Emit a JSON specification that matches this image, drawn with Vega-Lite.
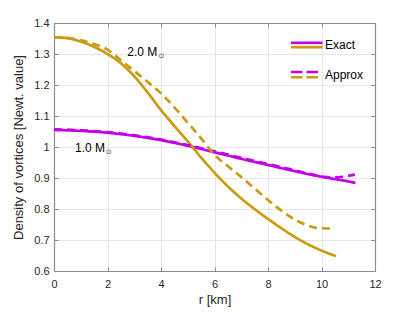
{
  "$schema": "https://vega.github.io/schema/vega-lite/v6.json",
  "width": 321,
  "height": 248,
  "autosize": {"type": "none"},
  "padding": {"left": 54, "top": 23, "right": 40, "bottom": 41},
  "background": "white",
  "config": {
    "font": "Liberation Sans",
    "view": {"stroke": "#8c8c8c", "strokeWidth": 1},
    "axis": {
      "domainColor": "#8c8c8c",
      "domainWidth": 1.2,
      "tickColor": "#8c8c8c",
      "labelColor": "#262626",
      "titleColor": "#262626",
      "labelFont": "Liberation Sans",
      "titleFont": "Liberation Sans",
      "labelFontSize": 11,
      "titleFontSize": 13,
      "titleFontWeight": "normal",
      "gridColor": "#e6e6e6",
      "gridWidth": 1
    }
  },
  "datasets": {
    "curves": [
      {"r": 0, "v": 1.055, "mass": "1.0", "kind": "Exact"},
      {"r": 1, "v": 1.052, "mass": "1.0", "kind": "Exact"},
      {"r": 2, "v": 1.046, "mass": "1.0", "kind": "Exact"},
      {"r": 3, "v": 1.036, "mass": "1.0", "kind": "Exact"},
      {"r": 4, "v": 1.022, "mass": "1.0", "kind": "Exact"},
      {"r": 5, "v": 1.004, "mass": "1.0", "kind": "Exact"},
      {"r": 6, "v": 0.983, "mass": "1.0", "kind": "Exact"},
      {"r": 7, "v": 0.962, "mass": "1.0", "kind": "Exact"},
      {"r": 8, "v": 0.942, "mass": "1.0", "kind": "Exact"},
      {"r": 9, "v": 0.922, "mass": "1.0", "kind": "Exact"},
      {"r": 10, "v": 0.904, "mass": "1.0", "kind": "Exact"},
      {"r": 11, "v": 0.889, "mass": "1.0", "kind": "Exact"},
      {"r": 11.27, "v": 0.884, "mass": "1.0", "kind": "Exact"},
      {"r": 0, "v": 1.354, "mass": "2.0", "kind": "Exact"},
      {"r": 0.5, "v": 1.351, "mass": "2.0", "kind": "Exact"},
      {"r": 1, "v": 1.34, "mass": "2.0", "kind": "Exact"},
      {"r": 1.5, "v": 1.323, "mass": "2.0", "kind": "Exact"},
      {"r": 2, "v": 1.3, "mass": "2.0", "kind": "Exact"},
      {"r": 2.5, "v": 1.27, "mass": "2.0", "kind": "Exact"},
      {"r": 3, "v": 1.228, "mass": "2.0", "kind": "Exact"},
      {"r": 3.5, "v": 1.176, "mass": "2.0", "kind": "Exact"},
      {"r": 4, "v": 1.119, "mass": "2.0", "kind": "Exact"},
      {"r": 4.5, "v": 1.068, "mass": "2.0", "kind": "Exact"},
      {"r": 5, "v": 1.018, "mass": "2.0", "kind": "Exact"},
      {"r": 5.5, "v": 0.966, "mass": "2.0", "kind": "Exact"},
      {"r": 6, "v": 0.917, "mass": "2.0", "kind": "Exact"},
      {"r": 6.5, "v": 0.873, "mass": "2.0", "kind": "Exact"},
      {"r": 7, "v": 0.834, "mass": "2.0", "kind": "Exact"},
      {"r": 7.5, "v": 0.8, "mass": "2.0", "kind": "Exact"},
      {"r": 8, "v": 0.768, "mass": "2.0", "kind": "Exact"},
      {"r": 8.5, "v": 0.738, "mass": "2.0", "kind": "Exact"},
      {"r": 9, "v": 0.71, "mass": "2.0", "kind": "Exact"},
      {"r": 9.5, "v": 0.686, "mass": "2.0", "kind": "Exact"},
      {"r": 10, "v": 0.666, "mass": "2.0", "kind": "Exact"},
      {"r": 10.54, "v": 0.648, "mass": "2.0", "kind": "Exact"},
      {"r": 0, "v": 1.057, "mass": "1.0", "kind": "Approx"},
      {"r": 1, "v": 1.054, "mass": "1.0", "kind": "Approx"},
      {"r": 2, "v": 1.048, "mass": "1.0", "kind": "Approx"},
      {"r": 3, "v": 1.038, "mass": "1.0", "kind": "Approx"},
      {"r": 4, "v": 1.024, "mass": "1.0", "kind": "Approx"},
      {"r": 5, "v": 1.006, "mass": "1.0", "kind": "Approx"},
      {"r": 6, "v": 0.986, "mass": "1.0", "kind": "Approx"},
      {"r": 7, "v": 0.965, "mass": "1.0", "kind": "Approx"},
      {"r": 8, "v": 0.945, "mass": "1.0", "kind": "Approx"},
      {"r": 9, "v": 0.925, "mass": "1.0", "kind": "Approx"},
      {"r": 9.5, "v": 0.914, "mass": "1.0", "kind": "Approx"},
      {"r": 10, "v": 0.905, "mass": "1.0", "kind": "Approx"},
      {"r": 10.5, "v": 0.902, "mass": "1.0", "kind": "Approx"},
      {"r": 10.8, "v": 0.904, "mass": "1.0", "kind": "Approx"},
      {"r": 11, "v": 0.907, "mass": "1.0", "kind": "Approx"},
      {"r": 11.25, "v": 0.911, "mass": "1.0", "kind": "Approx"},
      {"r": 0, "v": 1.354, "mass": "2.0", "kind": "Approx"},
      {"r": 0.5, "v": 1.352, "mass": "2.0", "kind": "Approx"},
      {"r": 1, "v": 1.344, "mass": "2.0", "kind": "Approx"},
      {"r": 1.5, "v": 1.332, "mass": "2.0", "kind": "Approx"},
      {"r": 2, "v": 1.314, "mass": "2.0", "kind": "Approx"},
      {"r": 2.5, "v": 1.28, "mass": "2.0", "kind": "Approx"},
      {"r": 3, "v": 1.245, "mass": "2.0", "kind": "Approx"},
      {"r": 3.5, "v": 1.21, "mass": "2.0", "kind": "Approx"},
      {"r": 4, "v": 1.173, "mass": "2.0", "kind": "Approx"},
      {"r": 4.5, "v": 1.128, "mass": "2.0", "kind": "Approx"},
      {"r": 5, "v": 1.078, "mass": "2.0", "kind": "Approx"},
      {"r": 5.5, "v": 1.028, "mass": "2.0", "kind": "Approx"},
      {"r": 6, "v": 0.975, "mass": "2.0", "kind": "Approx"},
      {"r": 6.5, "v": 0.938, "mass": "2.0", "kind": "Approx"},
      {"r": 7, "v": 0.903, "mass": "2.0", "kind": "Approx"},
      {"r": 7.5, "v": 0.866, "mass": "2.0", "kind": "Approx"},
      {"r": 8, "v": 0.829, "mass": "2.0", "kind": "Approx"},
      {"r": 8.5, "v": 0.795, "mass": "2.0", "kind": "Approx"},
      {"r": 9, "v": 0.766, "mass": "2.0", "kind": "Approx"},
      {"r": 9.5, "v": 0.746, "mass": "2.0", "kind": "Approx"},
      {"r": 9.8, "v": 0.739, "mass": "2.0", "kind": "Approx"},
      {"r": 10.34, "v": 0.737, "mass": "2.0", "kind": "Approx"}
    ],
    "legendExact": [
      {"x": 8.86, "x2": 10.04, "y": 1.336, "mass": "1.0"},
      {"x": 8.86, "x2": 10.04, "y": 1.322, "mass": "2.0"}
    ],
    "legendApprox": [
      {"x": 8.86, "x2": 9.88, "y": 1.242, "mass": "1.0"},
      {"x": 8.86, "x2": 9.88, "y": 1.225, "mass": "2.0"}
    ],
    "legendText": [
      {"x": 10.13, "y": 1.329, "label": "Exact"},
      {"x": 10.13, "y": 1.232, "label": "Approx"}
    ],
    "notes": [
      {"x": 2.74, "y": 1.306, "label": "2.0 M"},
      {"x": 0.785, "y": 0.996, "label": "1.0 M"}
    ],
    "suns": [
      {"x": 4.02, "y": 1.294, "label": "⊙"},
      {"x": 2.04, "y": 0.985, "label": "⊙"}
    ]
  },
  "resolve": {"axis": {"x": "independent", "y": "independent"}},
  "layer": [
    {
      "data": {"name": "curves"},
      "mark": {"type": "line", "strokeWidth": 2.7, "interpolate": "monotone"},
      "encoding": {
        "x": {
          "field": "r", "type": "quantitative",
          "scale": {"domain": [0, 12], "nice": false},
          "axis": {"values": [0, 2, 4, 6, 8, 10, 12], "title": "r [km]", "grid": true, "tickSize": -4, "labelPadding": 11, "titlePadding": 4, "labelFlush": false}
        },
        "y": {
          "field": "v", "type": "quantitative",
          "scale": {"domain": [0.6, 1.4], "nice": false, "zero": false},
          "axis": {"values": [0.6, 0.7, 0.8, 0.9, 1, 1.1, 1.2, 1.3, 1.4], "format": "~g", "title": "Density of vortices [Newt. value]", "grid": true, "tickSize": -4, "labelPadding": 9, "titlePadding": 8, "labelFlush": false}
        },
        "color": {"field": "mass", "type": "nominal", "scale": {"domain": ["1.0", "2.0"], "range": ["#c400e6", "#c99c10"]}, "legend": null},
        "strokeDash": {"field": "kind", "type": "nominal", "scale": {"domain": ["Exact", "Approx"], "range": [[1, 0], [8, 5]]}, "legend": null}
      }
    },
    {
      "data": {"name": "legendExact"},
      "mark": {"type": "rule", "strokeWidth": 2.7},
      "encoding": {
        "x": {"field": "x", "type": "quantitative", "axis": {"orient": "top", "labels": false, "title": null, "grid": false, "tickSize": -4, "values": [0, 2, 4, 6, 8, 10, 12], "domainColor": "#8c8c8c"}},
        "x2": {"field": "x2"},
        "y": {"field": "y", "type": "quantitative", "axis": {"orient": "right", "labels": false, "title": null, "grid": false, "tickSize": -4, "values": [0.6, 0.7, 0.8, 0.9, 1, 1.1, 1.2, 1.3, 1.4]}},
        "color": {"field": "mass", "type": "nominal", "legend": null}
      }
    },
    {
      "data": {"name": "legendApprox"},
      "mark": {"type": "rule", "strokeWidth": 2.7, "strokeDash": [11.5, 4]},
      "encoding": {
        "x": {"field": "x", "type": "quantitative", "axis": null},
        "x2": {"field": "x2"},
        "y": {"field": "y", "type": "quantitative", "axis": null},
        "color": {"field": "mass", "type": "nominal", "legend": null}
      }
    },
    {
      "data": {"name": "legendText"},
      "mark": {"type": "text", "align": "left", "baseline": "middle", "fontSize": 12, "color": "#000000", "font": "Liberation Sans"},
      "encoding": {
        "x": {"field": "x", "type": "quantitative", "axis": null},
        "y": {"field": "y", "type": "quantitative", "axis": null},
        "text": {"field": "label"}
      }
    },
    {
      "data": {"name": "notes"},
      "mark": {"type": "text", "align": "left", "baseline": "middle", "fontSize": 12, "color": "#000000", "font": "Liberation Sans"},
      "encoding": {
        "x": {"field": "x", "type": "quantitative", "axis": null},
        "y": {"field": "y", "type": "quantitative", "axis": null},
        "text": {"field": "label"}
      }
    },
    {
      "data": {"name": "suns"},
      "mark": {"type": "text", "align": "center", "baseline": "middle", "fontSize": 7, "color": "#444444", "font": "DejaVu Sans"},
      "encoding": {
        "x": {"field": "x", "type": "quantitative", "axis": null},
        "y": {"field": "y", "type": "quantitative", "axis": null},
        "text": {"field": "label"}
      }
    }
  ]
}
